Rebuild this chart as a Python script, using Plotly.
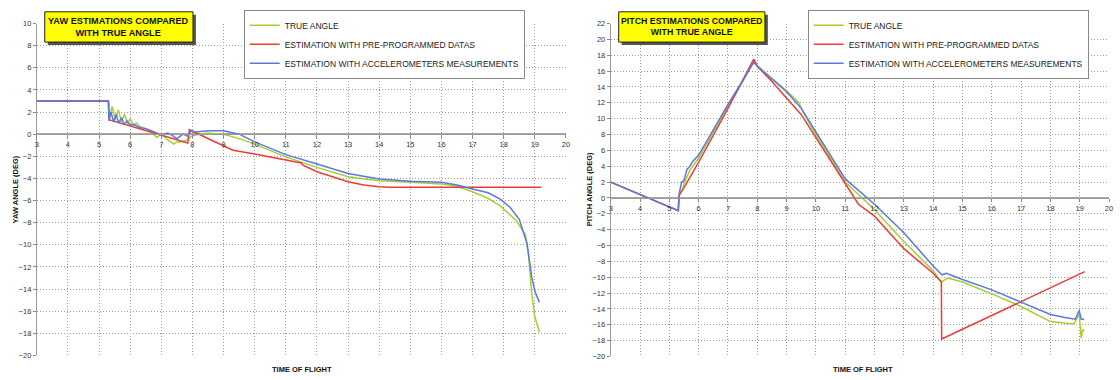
import plotly.graph_objects as go

W, H = 1120, 380
FONT = "Liberation Sans, Arial, sans-serif"

# ---------------- DATA ----------------
series_names = ["TRUE ANGLE", "ESTIMATION WITH PRE-PROGRAMMED DATAS",
                "ESTIMATION WITH ACCELEROMETERS MEASUREMENTS"]
series_colors = ["#a6cf2e", "#ee3b36", "#5a78e6"]

x_ticks = list(range(3, 21))
yaw_ticks = list(range(-20, 11, 2))
pitch_ticks = list(range(-20, 23, 2))

# Yaw chart
yaw_true_t = [3.0, 5.3, 5.33, 5.42, 5.52, 5.62, 5.72, 5.82, 5.92, 6.0, 6.1, 6.2, 6.3, 6.5, 6.7,
              6.85, 7.0, 7.2, 7.4, 7.5, 7.63, 7.85, 7.95, 8.2, 8.5, 9.0, 9.5, 10.0, 11.0, 12.0,
              13.0, 14.0, 15.0, 16.0, 16.5, 17.0, 17.5, 17.9, 18.4, 18.7, 18.8, 18.9, 19.0,
              19.1, 19.15]
yaw_true = [3.0, 3.0, 1.4, 2.5, 1.3, 2.2, 1.1, 1.8, 0.9, 1.4, 0.8, 1.0, 0.7, 0.5, 0.2,
            -0.3, 0.0, -0.5, -0.9, -0.7, -0.7, -0.5, -0.2, 0.0, 0.1, 0.0, -0.4, -0.9, -2.05, -3.0,
            -3.85, -4.2, -4.35, -4.5, -4.7, -5.2, -5.8, -6.5, -7.8, -9.1, -11.0, -14.4, -16.5,
            -17.4, -17.9]

yaw_prog_t = [3.0, 5.3, 5.32, 7.85, 7.9, 9.3, 10.0, 11.0, 11.5, 11.55, 12.0, 13.0, 13.5, 14.0,
              14.3, 19.2]
yaw_prog = [3.0, 3.0, 1.3, -0.8, 0.4, -1.45, -1.8, -2.35, -2.6, -2.8, -3.4, -4.3, -4.6, -4.75,
            -4.8, -4.8]

yaw_acc_t = [3.0, 5.3, 5.32, 5.38, 5.47, 5.55, 5.63, 5.72, 5.8, 5.9, 6.0, 6.1, 6.3, 6.5, 6.7,
             6.9, 7.0, 7.2, 7.35, 7.5, 7.7, 7.85, 7.95, 8.1, 8.5, 9.0, 9.5, 10.0, 11.0, 12.0,
             13.0, 14.0, 15.0, 16.0, 16.5, 17.0, 17.5, 17.9, 18.2, 18.5, 18.75, 18.9, 19.0,
             19.15]
yaw_acc = [3.0, 3.0, 1.2, 2.0, 1.1, 1.8, 1.0, 1.5, 0.9, 1.2, 0.8, 0.9, 0.6, 0.5, 0.3,
           0.0, -0.1, 0.1, -0.1, -0.4, 0.0, -0.2, 0.3, 0.2, 0.3, 0.3, 0.0, -0.7, -1.85, -2.7,
           -3.55, -4.05, -4.25, -4.35, -4.6, -4.95, -5.3, -5.9, -6.6, -7.7, -9.9, -12.9, -14.2,
           -15.2]

# Pitch chart
pitch_true_t = [3.0, 5.3, 5.33, 5.45, 5.5, 5.6, 5.7, 6.0, 6.5, 7.0, 7.5, 7.88, 8.0, 8.5, 9.0,
                9.42, 9.55, 10.0, 10.5, 11.0, 12.0, 13.0, 14.0, 14.28, 14.5, 15.0, 16.0, 17.0,
                18.0, 18.8, 18.98, 19.05, 19.1, 19.15]
pitch_true = [2.0, -1.6, 0.5, 1.0, 1.8, 2.6, 3.5, 5.0, 8.3, 11.6, 14.6, 17.3, 16.7, 15.1, 13.5,
              12.0, 10.9, 8.0, 5.0, 2.0, -1.5, -5.5, -9.2, -10.6, -10.1, -10.6, -12.1, -13.7,
              -15.6, -15.9, -14.7, -17.7, -16.6, -16.8]

pitch_prog_t = [3.0, 5.31, 5.33, 5.5, 6.0, 7.0, 7.88, 8.0, 8.5, 9.0, 9.5, 10.0, 11.0, 11.3,
                11.45, 12.0, 13.0, 14.0, 14.28, 14.29, 19.17]
pitch_prog = [2.0, -1.6, 0.3, 1.3, 4.5, 11.3, 17.5, 16.6, 14.7, 12.6, 10.5, 7.6, 1.8, 0.0,
              -0.8, -2.3, -6.4, -9.5, -10.6, -17.8, -9.3]

pitch_acc_t = [3.0, 5.3, 5.35, 5.42, 5.5, 5.6, 5.7, 5.8, 6.0, 6.5, 7.0, 7.5, 7.88, 8.0, 8.5,
               9.0, 9.5, 10.0, 10.5, 11.0, 12.0, 13.0, 14.0, 14.3, 14.45, 15.0, 16.0, 17.0,
               18.0, 18.5, 18.85, 18.98, 19.05, 19.15]
pitch_acc = [2.0, -1.6, 0.8, 2.0, 2.2, 3.6, 4.0, 4.6, 5.4, 8.6, 11.8, 14.8, 17.1, 16.6, 15.0,
             13.4, 11.3, 8.3, 5.4, 2.4, -0.8, -4.4, -8.6, -9.7, -9.5, -10.3, -11.6, -13.2,
             -14.7, -15.1, -15.3, -14.2, -15.3, -15.3]

yaw_title = "YAW ESTIMATIONS COMPARED<br>WITH TRUE ANGLE"
pitch_title = "PITCH ESTIMATIONS COMPARED<br>WITH TRUE ANGLE"
yaw_ylabel = "YAW ANGLE (DEG)"
pitch_ylabel = "PITCH ANGLE (DEG)"
x_label = "TIME OF FLIGHT"

# ---------------- LAYOUT HELPERS ----------------
def px(x):
    return x / W


def py(y):
    return 1 - y / H


L_DOM_X = [px(35), px(567)]
R_DOM_X = [px(612), px(1113)]
L_DOM_Y = [py(360), py(20)]
R_DOM_Y = [py(361), py(20)]
YAW_RANGE = [-20, 10]
PITCH_RANGE = [-20, 22]


def zero_pos(dom, rng):
    return dom[0] + (0 - rng[0]) / (rng[1] - rng[0]) * (dom[1] - dom[0])


fig = go.Figure()

yaw_sets = [(yaw_true_t, yaw_true), (yaw_prog_t, yaw_prog), (yaw_acc_t, yaw_acc)]
pitch_sets = [(pitch_true_t, pitch_true), (pitch_prog_t, pitch_prog),
              (pitch_acc_t, pitch_acc)]

for i, (t, v) in enumerate(yaw_sets):
    fig.add_trace(go.Scatter(x=t, y=v, mode="lines", name=series_names[i],
                             line=dict(color=series_colors[i], width=1.5),
                             xaxis="x", yaxis="y", legend="legend",
                             legendgroup="a%d" % i))
for i, (t, v) in enumerate(pitch_sets):
    fig.add_trace(go.Scatter(x=t, y=v, mode="lines", name=series_names[i],
                             line=dict(color=series_colors[i], width=1.5),
                             xaxis="x2", yaxis="y2", legend="legend2",
                             legendgroup="b%d" % i))

tick_font = dict(family=FONT, size=7.5, color="#333")
GRID_DASH = "1px,2px"
GRID_COLOR = "#9a9a9a"


def xaxis_cfg(dom, ydom, yrng):
    return dict(domain=dom, range=[3, 20], tickvals=x_ticks,
                anchor="free", position=zero_pos(ydom, yrng),
                showgrid=True, gridcolor=GRID_COLOR, griddash=GRID_DASH, gridwidth=1,
                showline=True, linecolor="#9a9a9a", linewidth=1,
                ticks="outside", ticklen=3, tickcolor="#888",
                tickfont=tick_font, zeroline=False, fixedrange=True)


def yaxis_cfg(dom, rng, ticks, anchor):
    return dict(domain=dom, range=rng, tickvals=ticks, anchor=anchor,
                showgrid=True, gridcolor=GRID_COLOR, griddash=GRID_DASH, gridwidth=1,
                zeroline=True, zerolinecolor="#a8a8a8", zerolinewidth=2,
                showline=True, linecolor="#9a9a9a", linewidth=1,
                ticks="outside", ticklen=3, tickcolor="#888",
                tickfont=tick_font, fixedrange=True)


legend_common = dict(xanchor="left", yanchor="top", bgcolor="white",
                     bordercolor="#888", borderwidth=1,
                     font=dict(family=FONT, size=8.5, color="#222"),
                     itemwidth=30, tracegroupgap=0, traceorder="grouped")

fig.update_layout(
    width=W, height=H, margin=dict(l=0, r=0, t=0, b=0),
    paper_bgcolor="white", plot_bgcolor="white",
    font=dict(family=FONT, color="#222"),
    xaxis=xaxis_cfg(L_DOM_X, L_DOM_Y, YAW_RANGE),
    yaxis=yaxis_cfg(L_DOM_Y, YAW_RANGE, yaw_ticks, "x"),
    xaxis2=xaxis_cfg(R_DOM_X, R_DOM_Y, PITCH_RANGE),
    yaxis2=yaxis_cfg(R_DOM_Y, PITCH_RANGE, pitch_ticks, "x2"),
    legend=dict(x=px(243), y=py(6), **legend_common),
    legend2=dict(x=px(810), y=py(6), **legend_common),
    showlegend=True,
)

shapes = []
annotations = []


def title_box(x0, y0, x1, y1, text, size):
    shapes.append(dict(type="rect", xref="paper", yref="paper",
                       x0=px(x0 + 3), x1=px(x1 + 3), y0=py(y1 + 3), y1=py(y0 + 3),
                       fillcolor="#555555", line=dict(width=0), layer="above"))
    shapes.append(dict(type="rect", xref="paper", yref="paper",
                       x0=px(x0), x1=px(x1), y0=py(y1), y1=py(y0),
                       fillcolor="#ffff00", line=dict(color="#222", width=1), layer="above"))
    annotations.append(dict(xref="paper", yref="paper", x=px((x0 + x1) / 2),
                            y=py((y0 + y1) / 2), text="<b>%s</b>" % text, showarrow=False,
                            xanchor="center", yanchor="middle",
                            font=dict(family=FONT, size=size, color="#111")))


title_box(43, 8, 192, 39, yaw_title, 9.2)
title_box(620, 8, 767, 39, pitch_title, 8.8)

label_font = dict(family=FONT, size=7.5, color="#111")
annotations.append(dict(xref="paper", yref="paper", x=px(14), y=py(190),
                        text="<b>%s</b>" % yaw_ylabel, textangle=-90, showarrow=False,
                        xanchor="center", yanchor="middle", font=label_font))
annotations.append(dict(xref="paper", yref="paper", x=px(591), y=py(190),
                        text="<b>%s</b>" % pitch_ylabel, textangle=-90, showarrow=False,
                        xanchor="center", yanchor="middle", font=label_font))
annotations.append(dict(xref="paper", yref="paper", x=px(302), y=py(374),
                        text="<b>%s</b>" % x_label, showarrow=False,
                        xanchor="center", yanchor="middle", font=label_font))
annotations.append(dict(xref="paper", yref="paper", x=px(866), y=py(374),
                        text="<b>%s</b>" % x_label, showarrow=False,
                        xanchor="center", yanchor="middle", font=label_font))

fig.update_layout(shapes=shapes, annotations=annotations)

fig.write_html("out.html",
               config={"displayModeBar": False},
               post_script="document.body.style.margin='0';"
                           "document.body.style.padding='0';"
                           "document.body.style.overflow='hidden';")
